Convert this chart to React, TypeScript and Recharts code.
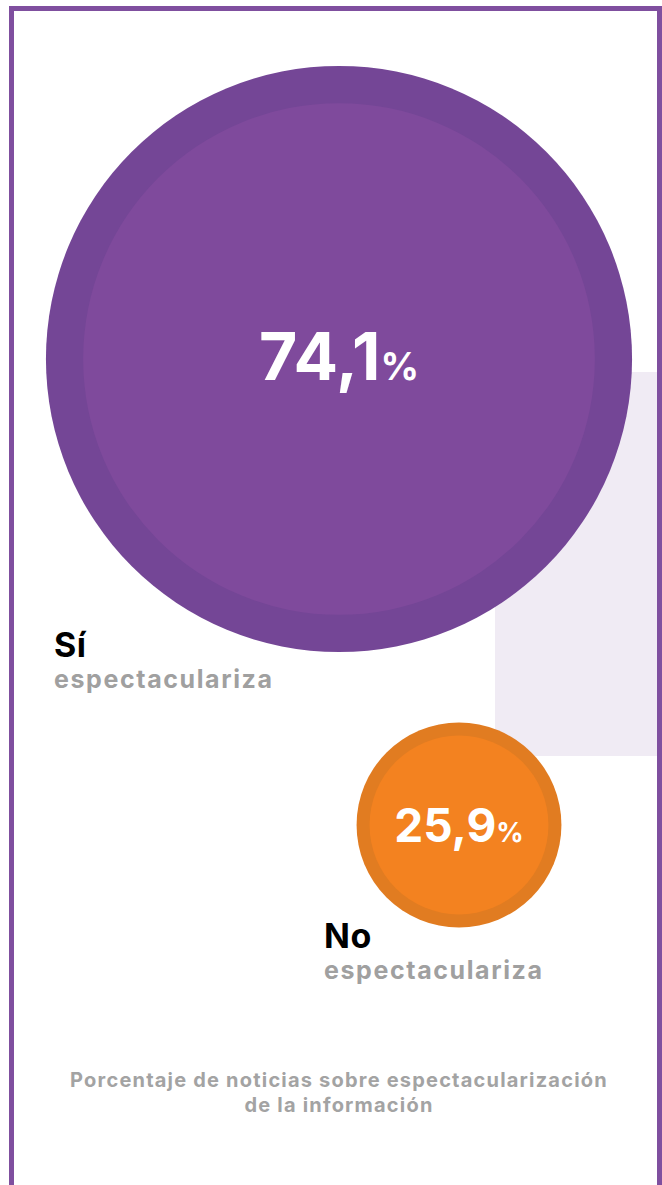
import React from 'react';
import { ScatterChart, Scatter, XAxis, YAxis, ZAxis } from 'recharts';

const CATEGORIES = ['Sí', 'No'];
const SUBLABELS = ['espectaculariza', 'espectaculariza'];
const VALUES = [74.1, 25.9];
const CAPTION = ['Porcentaje de noticias sobre espectacularización', 'de la información'];

const data = CATEGORIES.map((name, i) => ({ name, value: VALUES[i], sub: SUBLABELS[i] }));

const OUTER = ['#744696', '#e17c21'];
const INNER = ['#7f4a9c', '#f38220'];
const LABEL_OFFSET = [
  { dx: -285, dy: 5 },
  { dx: -135, dy: 21 },
];
const VALUE_FONT = [66, 46];
const PCT_FONT = [38, 27];
const VALUE_DY = [21, 17];

const FONT = 'Inter, "DejaVu Sans", sans-serif';

const Bubble = (props: any) => {
  const { cx, cy, size, payload, index } = props;
  const i = index ?? CATEGORIES.indexOf(payload.name);
  const r = size;
  const off = LABEL_OFFSET[i];
  const txt = payload.value.toFixed(1).replace('.', ',');
  return (
    <g>
      <circle cx={cx} cy={cy} r={r} fill={OUTER[i]} />
      <circle cx={cx} cy={cy} r={r * 0.873} fill={INNER[i]} />
      <text
        x={cx}
        y={cy + VALUE_DY[i]}
        textAnchor="middle"
        fill="#ffffff"
        fontFamily={FONT}
        fontWeight={700}
        fontSize={VALUE_FONT[i]}
      >
        {txt}
        <tspan fontSize={PCT_FONT[i]}>%</tspan>
      </text>
      <text
        x={cx + off.dx}
        y={cy + r + off.dy}
        fill="#000000"
        fontFamily={FONT}
        fontWeight={700}
        fontSize={34}
        letterSpacing={0.5}
      >
        {payload.name}
      </text>
      <text
        x={cx + off.dx}
        y={cy + r + off.dy + 31}
        fill="#a0a0a0"
        fontFamily={FONT}
        fontWeight={700}
        fontSize={25}
        letterSpacing={1.6}
      >
        {payload.sub}
      </text>
    </g>
  );
};

export default function App() {
  return (
    <div style={{ position: 'absolute', left: 0, top: 0, width: 662, height: 1185, overflow: 'hidden', background: '#ffffff' }}>
      <div
        style={{
          position: 'absolute',
          left: 9,
          top: 6,
          width: 643,
          height: 1300,
          border: '5px solid #7f4f9f',
          boxSizing: 'content-box',
        }}
      />
      <div style={{ position: 'absolute', left: 495, top: 372, width: 162, height: 384, background: '#f0ebf4' }} />
      <div style={{ position: 'absolute', left: 0, top: 0 }}>
        <ScatterChart width={662} height={1185} margin={{ top: 126, right: 143, bottom: 127, left: 279 }}>
          <XAxis type="category" dataKey="name" hide allowDuplicatedCategory={false} />
          <YAxis type="category" dataKey="name" hide reversed allowDuplicatedCategory={false} />
          <ZAxis type="number" dataKey="value" domain={[0, 100]} range={[0, 395.5]} />
          <Scatter data={data} shape={<Bubble />} isAnimationActive={false} />
        </ScatterChart>
      </div>
      <div
        style={{
          position: 'absolute',
          left: 0,
          width: 678,
          top: 1068,
          textAlign: 'center',
          color: '#a3a3a3',
          fontFamily: FONT,
          fontWeight: 700,
          fontSize: 20,
          letterSpacing: 1.2,
          lineHeight: '25px',
        }}
      >
        <div>{CAPTION[0]}</div>
        <div>{CAPTION[1]}</div>
      </div>
    </div>
  );
}
